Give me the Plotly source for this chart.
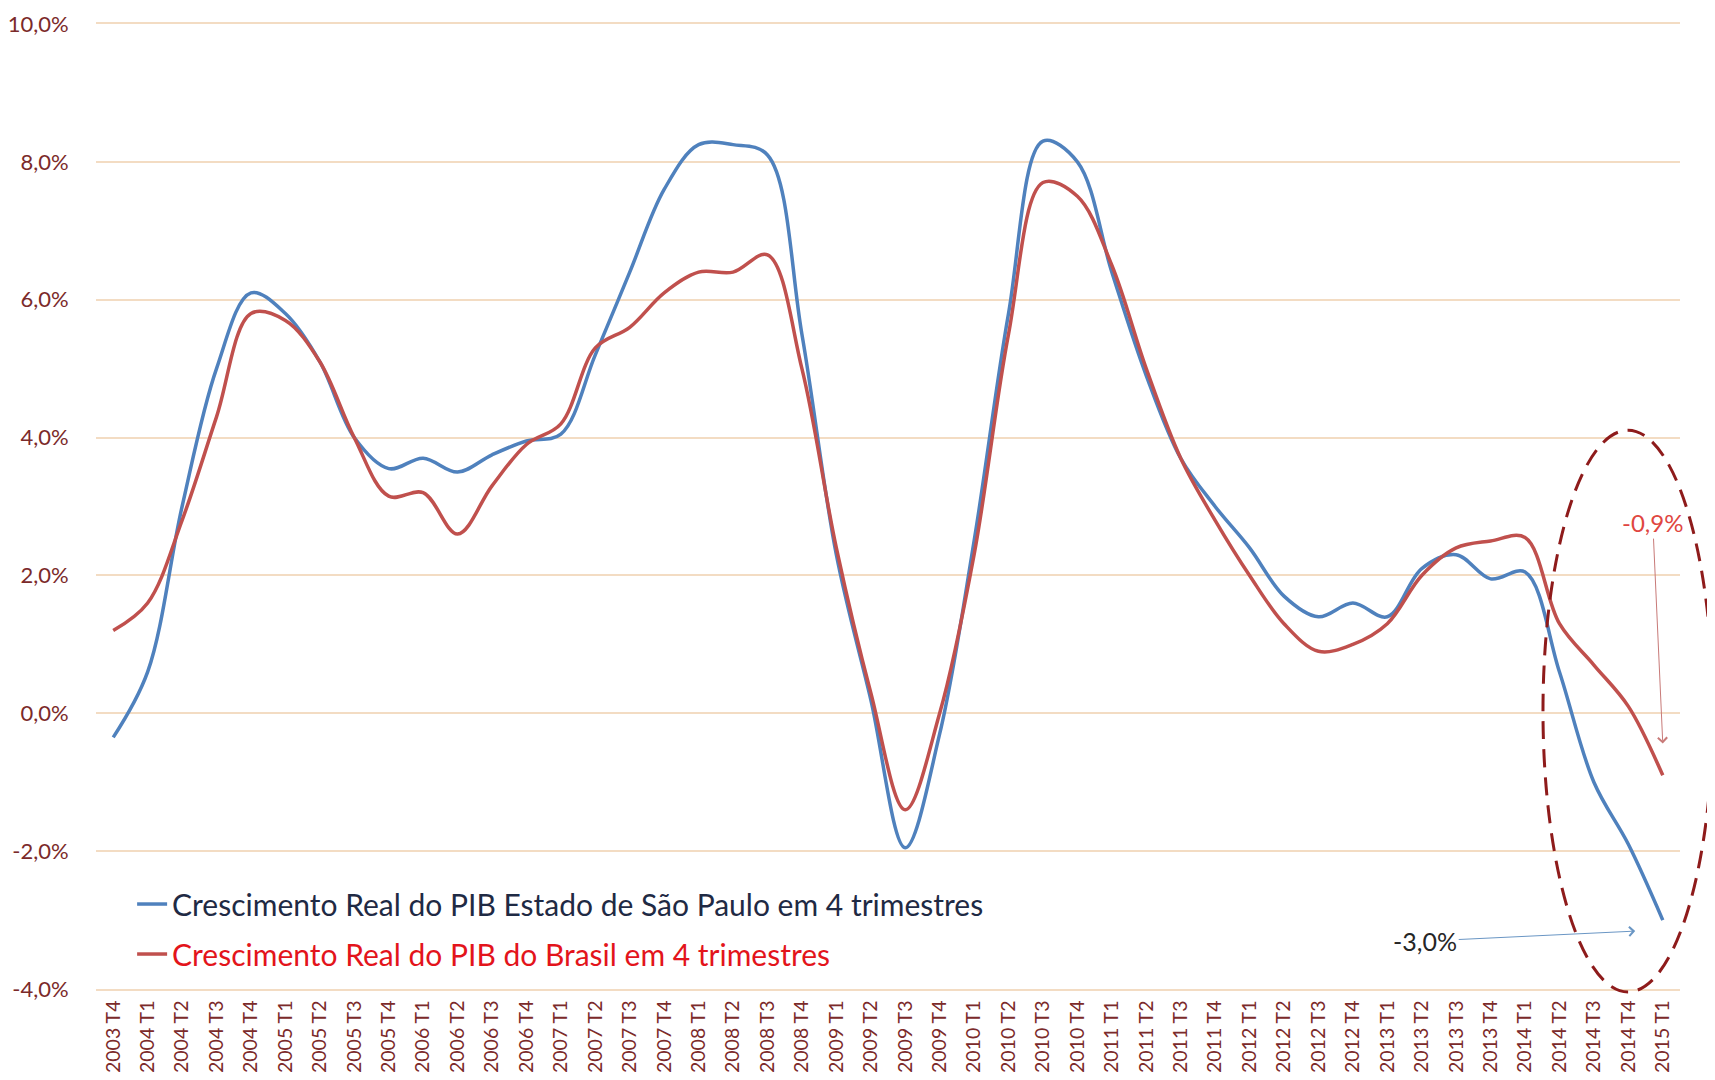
import plotly.graph_objects as go

categories = [
    "2003 T4",
    "2004 T1", "2004 T2", "2004 T3", "2004 T4",
    "2005 T1", "2005 T2", "2005 T3", "2005 T4",
    "2006 T1", "2006 T2", "2006 T3", "2006 T4",
    "2007 T1", "2007 T2", "2007 T3", "2007 T4",
    "2008 T1", "2008 T2", "2008 T3", "2008 T4",
    "2009 T1", "2009 T2", "2009 T3", "2009 T4",
    "2010 T1", "2010 T2", "2010 T3", "2010 T4",
    "2011 T1", "2011 T2", "2011 T3", "2011 T4",
    "2012 T1", "2012 T2", "2012 T3", "2012 T4",
    "2013 T1", "2013 T2", "2013 T3", "2013 T4",
    "2014 T1", "2014 T2", "2014 T3", "2014 T4",
    "2015 T1",
]

sp_values = [
    -0.35,
    0.6, 3.0, 5.0, 6.1,
    5.8, 5.1, 4.0, 3.55,
    3.7, 3.5, 3.75, 3.95,
    4.05, 5.2, 6.4, 7.6,
    8.25, 8.25, 8.1, 5.5,
    2.3, 0.2, -1.95, -0.3,
    2.5, 5.8, 8.3, 8.0,
    6.4, 4.9, 3.7, 3.0,
    2.4, 1.7, 1.4, 1.6,
    1.4, 2.1, 2.3, 1.95,
    2.05, 0.6, -1.0, -1.9,
    -3.0,
]

br_values = [
    1.2,
    1.6, 2.8, 4.3, 5.8,
    5.7, 5.1, 4.0, 3.15,
    3.2, 2.6, 3.3, 3.9,
    4.2, 5.3, 5.6, 6.1,
    6.4, 6.4, 6.65, 5.0,
    2.4, 0.3, -1.4, 0.0,
    2.3, 5.5, 7.7, 7.5,
    6.5, 5.0, 3.7, 2.8,
    2.0, 1.3, 0.9, 1.0,
    1.3, 2.0, 2.4, 2.5,
    2.55, 1.3, 0.7, 0.1,
    -0.9,
]

y_tick_values = [-4, -2, 0, 2, 4, 6, 8, 10]
y_tick_labels = ["-4,0%", "-2,0%", "0,0%", "2,0%", "4,0%", "6,0%", "8,0%", "10,0%"]

sp_name = "Crescimento Real do PIB Estado de São Paulo em 4 trimestres"
br_name = "Crescimento Real do PIB do Brasil em 4 trimestres"

BLUE = "#4F81BD"
RED = "#C0504D"
TICK_COLOR = "#7B2A2A"
GRID = "#F3DCC3"
FONT = "Lato, Carlito, Calibri, sans-serif"

fig = go.Figure()
fig.add_trace(go.Scatter(
    x=categories, y=sp_values, mode="lines",
    line=dict(color=BLUE, width=3.5, shape="spline", smoothing=1.0),
    name="<span style='color:#1F2A44'>" + sp_name + "</span>",
    legendgroup="sp",
))
fig.add_trace(go.Scatter(
    x=categories, y=br_values, mode="lines",
    line=dict(color=RED, width=3.5, shape="spline", smoothing=1.0),
    name="<span style='color:#E3141B'>" + br_name + "</span>",
    legendgroup="br",
))

# dashed zero line
fig.add_shape(type="line", xref="paper", yref="y", x0=0, x1=1, y0=0, y1=0,
              line=dict(color="#5E4444", width=1.5, dash="8px,6px"), layer="below")

# dashed ellipse highlighting the last quarters
fig.add_shape(type="circle", xref="paper", yref="paper",
              x0=0.9135, x1=1.0208, y0=-0.003, y1=0.579,
              line=dict(color="#8E1B1B", width=3, dash="18px,10px"))

fig.add_annotation(
    x=categories[-1], y=-0.44, xref="x", yref="y",
    text="-0,9%", showarrow=True, ax=-10, ay=-221,
    arrowhead=4, arrowsize=1.8, arrowwidth=1, arrowcolor="#C87A78",
    font=dict(family=FONT, size=24, color="#E0463F"),
)
fig.add_annotation(
    x=44.2, y=-3.16, xref="x", yref="y",
    text="-3,0%", showarrow=True, ax=-210, ay=10,
    arrowhead=4, arrowsize=1.8, arrowwidth=1, arrowcolor="#6A96C4",
    font=dict(family=FONT, size=25, color="#262626"),
)

# the page body adds an 8px margin, so the figure is sized/offset to compensate
fig.update_layout(
    width=1707, height=1072,
    paper_bgcolor="white", plot_bgcolor="white",
    margin=dict(l=88, r=35, t=16, b=91, autoexpand=False),
    font=dict(family=FONT, color=TICK_COLOR),
    showlegend=True,
    legend=dict(
        x=0.0228, y=0.115, xanchor="left", yanchor="top",
        bgcolor="rgba(0,0,0,0)", font=dict(family=FONT, size=30),
        traceorder="grouped", tracegroupgap=8,
    ),
    xaxis=dict(
        type="category", range=[-0.5, len(categories) - 0.5],
        tickangle=-90, showgrid=False, automargin=False,
        showline=True, mirror=True, linecolor=GRID, linewidth=1.5,
        zeroline=False, ticks="outside", ticklen=2, tickcolor="rgba(0,0,0,0)",
        tickfont=dict(family=FONT, size=19.5, color=TICK_COLOR),
    ),
    yaxis=dict(
        range=[-4, 10], tickvals=y_tick_values, ticktext=y_tick_labels,
        showgrid=True, gridcolor=GRID, gridwidth=1.5, zeroline=False,
        showline=False, automargin=False,
        ticks="outside", ticklen=22, tickcolor="rgba(0,0,0,0)",
        tickfont=dict(family=FONT, size=22, color=TICK_COLOR),
    ),
)

fig.write_html("out.html")
